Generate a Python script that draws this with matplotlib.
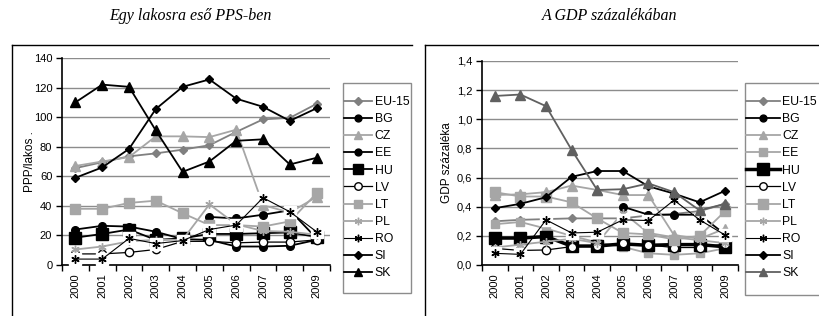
import numpy as np
import matplotlib
matplotlib.use("Agg")
import matplotlib.pyplot as plt
from matplotlib.lines import Line2D
from matplotlib.patches import Rectangle

plt.rcParams['font.family'] = ['Liberation Sans', 'DejaVu Sans']

years = ['2000', '2001', '2002', '2003', '2004', '2005', '2006', '2007', '2008', '2009']
countries = ['EU-15', 'BG', 'CZ', 'EE', 'HU', 'LV', 'LT', 'PL', 'RO', 'SI', 'SK']
nan = np.nan

# Left: PPS per inhabitant
pps_eu15 = [65.5, 69.5, 73.5, 75.5, 78, 81, 90, 98.5, 99.5, 109]
pps_bg = [nan, nan, nan, nan, nan, 32.5, 31.5, 34, 37, 18]
pps_cz = [67, 70, 73, 87, 87, 86.5, 91.5, 40.5, 35.5, 46]
pps_ee = [24, 26.5, 26, 22.5, 17.5, 17, 12.5, 12.5, 13, 17]
pps_hu = [18.5, 21, 24, 17, 18, 21, 21, 21.5, 22, 19]
pps_lv = [7.5, 7.5, 8.5, 10.5, 16, 16, 15, 15.5, 15.5, 17]
pps_lt = [38, 38, 42, 43.5, 35, 27, 27, 26, 29.5, 48.5]
pps_pl = [10.5, 12.5, 16, 17, 17, 41, 27.5, 23, 22.5, 20.5]
pps_ro = [4, 4, 18, 14.5, 16.5, 24, 27, 45.5, 36, 22.5]
pps_si = [59, 66, 78.5, 105.5, 120.5, 125.5, 112.5, 107, 97.5, 106]
pps_sk = [110, 122, 120.5, 91, 63, 70, 84, 85, 68, 72.5]

# Right: percent of GDP
gdp_eu15 = [0.30, 0.31, 0.315, 0.32, 0.32, 0.32, 0.34, 0.35, 0.37, 0.42]
gdp_bg = [nan, nan, nan, nan, nan, 0.40, 0.345, 0.345, 0.345, 0.21]
gdp_cz = [0.48, 0.485, 0.50, 0.545, 0.515, 0.48, 0.48, 0.205, 0.18, 0.25]
gdp_ee = [0.28, 0.295, 0.25, 0.20, 0.155, 0.125, 0.08, 0.07, 0.08, 0.115]
gdp_hu = [0.185, 0.185, 0.195, 0.13, 0.13, 0.145, 0.135, 0.14, 0.14, 0.125]
gdp_lv = [0.114, 0.10, 0.103, 0.126, 0.13, 0.148, 0.137, 0.12, 0.12, 0.144]
gdp_lt = [0.50, 0.47, 0.47, 0.43, 0.32, 0.22, 0.21, 0.175, 0.20, 0.37]
gdp_pl = [0.12, 0.14, 0.16, 0.18, 0.15, 0.36, 0.22, 0.19, 0.17, 0.15]
gdp_ro = [0.08, 0.073, 0.31, 0.22, 0.225, 0.31, 0.305, 0.445, 0.31, 0.205]
gdp_si = [0.39, 0.42, 0.465, 0.605, 0.645, 0.645, 0.54, 0.49, 0.43, 0.51]
gdp_sk = [1.16, 1.17, 1.09, 0.79, 0.515, 0.52, 0.56, 0.50, 0.375, 0.42]

title_left = 'Egy lakosra eső PPS-ben'
title_right = 'A GDP százalékában'
ylabel_left = 'PPP/lakos .'
ylabel_right = 'GDP százaléka'

W, H = 819, 316
fig = plt.figure(figsize=(W / 100, H / 100), dpi=100)

MID = '#808080'
LIGHT = '#a6a6a6'
DARK = '#606060'
BLK = '#000000'

def style(c, m, ms, mfc=None, mec=None, lw=1.3):
    return dict(color=c, marker=m, markersize=ms,
                markerfacecolor=mfc if mfc else c,
                markeredgecolor=mec if mec else c, linewidth=lw)

AST = (6, 2, 0)

left_styles = {
    'EU-15': style(MID, 'D', 4.5),
    'BG': style(BLK, 'o', 5.5),
    'CZ': style(LIGHT, '^', 7),
    'EE': style(BLK, 'o', 5.5),
    'HU': style(BLK, 's', 8),
    'LV': style(BLK, 'o', 6, mfc='white', lw=0.9),
    'LT': style(LIGHT, 's', 7),
    'PL': style(LIGHT, AST, 6),
    'RO': style(BLK, AST, 6, lw=0.8),
    'SI': style(BLK, 'D', 4.5),
    'SK': style(BLK, '^', 6.5),
}
right_styles = {
    'EU-15': style(MID, 'D', 4.5),
    'BG': style(BLK, 'o', 5.5),
    'CZ': style(LIGHT, '^', 6.5),
    'EE': style(LIGHT, 's', 6),
    'HU': style(BLK, 's', 9, lw=2.5),
    'LV': style(BLK, 'o', 6, mfc='white', lw=0.9),
    'LT': style(LIGHT, 's', 7.5),
    'PL': style(LIGHT, AST, 6),
    'RO': style(BLK, AST, 6, lw=0.8),
    'SI': style(BLK, 'D', 4.5),
    'SK': style(DARK, '^', 6.5),
}

left_data = dict(zip(countries, [pps_eu15, pps_bg, pps_cz, pps_ee, pps_hu, pps_lv,
                                 pps_lt, pps_pl, pps_ro, pps_si, pps_sk]))
right_data = dict(zip(countries, [gdp_eu15, gdp_bg, gdp_cz, gdp_ee, gdp_hu, gdp_lv,
                                  gdp_lt, gdp_pl, gdp_ro, gdp_si, gdp_sk]))


def draw(ax, data, styles, ymax, ystep, fmt, ylabel, ylabelpad, box, hlen):
    x = np.arange(len(years))
    handles = []
    for i, c in enumerate(countries):
        y = np.array(data[c], dtype=float)
        st = styles[c]
        if c == 'RO':
            ax.plot(x, y, linestyle='none', marker='s', markersize=9,
                    markerfacecolor='white', markeredgecolor='white', zorder=3 + i * 0.1)
        h, = ax.plot(x, y, zorder=3 + i * 0.1 + 0.05, clip_on=False, **st)
        handles.append(h)
    ax.set_xlim(-0.5, len(years) - 0.5)
    ax.set_ylim(0, ymax)
    yt = np.arange(0, ymax + ystep / 2, ystep)
    ax.set_yticks(yt)
    ax.set_yticklabels([fmt(v) for v in yt], fontsize=8)
    ax.yaxis.grid(True, color='#8c8c8c', linewidth=1.0)
    ax.set_axisbelow(True)
    ax.set_xticks(x)
    ax.set_xticklabels(years, rotation=90, fontsize=8)
    ax.set_xticks(np.arange(-0.5, len(years)), minor=True)
    ax.tick_params(axis='x', which='major', length=0, pad=6)
    ax.tick_params(axis='x', which='minor', length=4, width=1, direction='out')
    ax.tick_params(axis='y', length=4, width=1, direction='out', pad=3)
    for s in ['top', 'right']:
        ax.spines[s].set_visible(False)
    for s in ['left', 'bottom']:
        ax.spines[s].set_linewidth(1.2)
    ax.set_ylabel(ylabel, fontsize=8.5, labelpad=ylabelpad)
    bx0, by0, bx1, by1 = box
    fig.add_artist(Rectangle((bx0 / W, 1 - by1 / H), (bx1 - bx0) / W, (by1 - by0) / H,
                             transform=fig.transFigure, facecolor='white',
                             edgecolor='#8c8c8c', linewidth=1.0, zorder=5))
    leg = fig.legend(handles, countries, loc='upper left',
                     bbox_to_anchor=((bx0 + 1) / W, 1 - (by0 + 13) / H),
                     bbox_transform=fig.transFigure,
                     fontsize=8.8, frameon=False, handlelength=hlen, handletextpad=0.2,
                     labelspacing=0.42, borderpad=0.0, borderaxespad=0,
                     markerscale=0.9)
    leg.set_zorder(6)


ax1 = fig.add_axes([62 / W, 1 - 265 / H, (330 - 62) / W, (265 - 58) / H])
draw(ax1, left_data, left_styles, 140, 20, lambda v: f'{v:.0f}', ylabel_left, -1.5,
     (343, 83, 411, 293), 2.3)

ax2 = fig.add_axes([482 / W, 1 - 265 / H, (738 - 482) / W, (265 - 61) / H])
draw(ax2, right_data, right_styles, 1.4, 0.2, lambda v: f'{v:.1f}'.replace('.', ','),
     ylabel_right, 3, (745, 83, 830, 295), 2.75)

# panel frames
for (x0, x1, y0) in [(12, 412, 45), (425, 819, 45)]:
    fig.add_artist(Line2D([x0 / W, x1 / W], [1 - y0 / H, 1 - y0 / H],
                          transform=fig.transFigure, color='black', linewidth=1.0))
    fig.add_artist(Line2D([x0 / W, x0 / W], [1 - y0 / H, 0],
                          transform=fig.transFigure, color='black', linewidth=1.0))

fig.text(190 / W, 1 - 16 / H, title_left, ha='center', va='center', fontsize=11.5,
         family='Liberation Serif', style='italic')
fig.text(610 / W, 1 - 16 / H, title_right, ha='center', va='center', fontsize=11.5,
         family='Liberation Serif', style='italic')

fig.savefig('out.png', dpi=100)
